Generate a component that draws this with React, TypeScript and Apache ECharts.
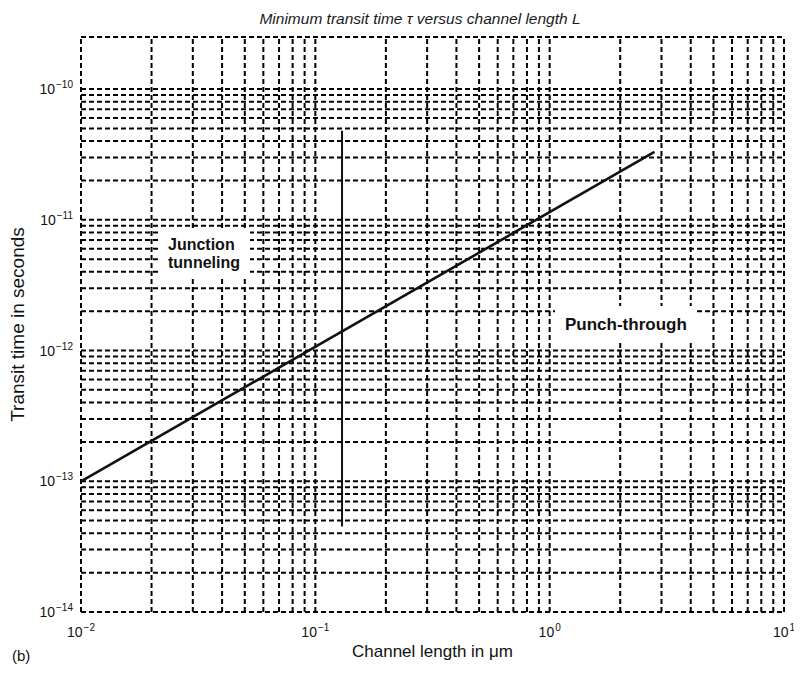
import React, { useEffect, useRef } from "react";
import * as echarts from "echarts";

// Data
const linePoints: [number, number][] = [
  [0.01, 1e-13],
  [2.8, 3.3e-11],
];
const boundaryLine: [number, number][] = [
  [0.13, 4.5e-14],
  [0.13, 4.8e-11],
];
const xMin = 0.01;
const xMax = 10;
const yMin = 1e-14;
const yMax = 2.5e-10;
const xDecades = [-2, -1, 0];
const yDecades = [-14, -13, -12, -11];
const multipliers = [1, 2, 3, 4, 5, 6, 7, 8, 9];

const xGrid: number[] = [];
xDecades.forEach((d) => multipliers.forEach((m) => xGrid.push(m * Math.pow(10, d))));
xGrid.push(10);
const yGrid: number[] = [];
yDecades.forEach((d) => multipliers.forEach((m) => yGrid.push(m * Math.pow(10, d))));
yGrid.push(1e-10);
yGrid.push(yMax);

const supLabel = (v: number) => {
  const e = Math.round(Math.log10(v));
  if (Math.abs(Math.log10(v) - e) > 1e-6) return "";
  const es = e < 0 ? "\u2212" + Math.abs(e) : String(e);
  return `{b|10}{s|${es}}`;
};

export default function App() {
  const ref = useRef<HTMLDivElement>(null);
  useEffect(() => {
    if (!ref.current) return;
    const chart = echarts.init(ref.current, undefined, { renderer: "svg" });
    const font = "'Liberation Sans', Arial, sans-serif";
    const gridStyle = { color: "#000", width: 2, type: [5, 3] as any };
    const rich = {
      b: { fontSize: 14, fontFamily: font, color: "#111" },
      s: { fontSize: 10, fontFamily: font, color: "#111", padding: [0, 0, 9, 1] },
    };
    const gridSeries: any[] = [
      ...xGrid.map((v) => ({
        type: "line",
        data: [
          [v, yMin],
          [v, yMax],
        ],
        symbol: "none",
        silent: true,
        lineStyle: gridStyle,
        z: 1,
      })),
      ...yGrid.map((v) => ({
        type: "line",
        data: [
          [xMin, v],
          [xMax, v],
        ],
        symbol: "none",
        silent: true,
        lineStyle: gridStyle,
        z: 1,
      })),
    ];
    chart.setOption({
      animation: false,
      backgroundColor: "#ffffff",
      title: {
        text: "Minimum transit time \u03c4 versus channel length L",
        left: 415,
        textAlign: "center",
        top: 5,
        textStyle: { fontSize: 15.5, fontStyle: "italic", fontWeight: "normal", fontFamily: font, color: "#1a1a1a" },
      },
      grid: { left: 80, right: 18, top: 37, bottom: 80 },
      xAxis: {
        type: "log",
        logBase: 10,
        min: xMin,
        max: xMax,
        axisLine: { show: false },
        axisTick: { show: false },
        splitLine: { show: false },
        axisLabel: { formatter: supLabel, rich, margin: 10 },
        name: "Channel length in \u03bcm",
        nameLocation: "middle",
        nameGap: 30,
        nameTextStyle: { fontSize: 17, fontFamily: font, color: "#111" },
      },
      yAxis: {
        type: "log",
        logBase: 10,
        min: yMin,
        max: yMax,
        axisLine: { show: false },
        axisTick: { show: false },
        splitLine: { show: false },
        axisLabel: { formatter: supLabel, rich, margin: 8 },
        name: "Transit time in seconds",
        nameLocation: "middle",
        nameGap: 54,
        nameTextStyle: { fontSize: 19, fontFamily: font, color: "#111" },
      },
      series: [
        ...gridSeries,
        {
          type: "line",
          data: linePoints,
          symbol: "none",
          lineStyle: { color: "#111", width: 2.6 },
          z: 5,
        },
        {
          type: "line",
          data: boundaryLine,
          symbol: "none",
          lineStyle: { color: "#111", width: 2 },
          z: 5,
        },
      ],
      graphic: [
        {
          type: "text",
          left: 158,
          top: 230,
          z: 10,
          style: {
            text: "Junction\ntunneling",
            font: `bold 16px ${font}`,
            fill: "#111",
            align: "center",
            backgroundColor: "#fff",
            padding: [5, 10],
            lineHeight: 18,
          },
        },
        {
          type: "text",
          left: 555,
          top: 306,
          z: 10,
          style: {
            text: "Punch-through",
            font: `bold 17px ${font}`,
            fill: "#111",
            backgroundColor: "#fff",
            padding: [10, 10],
          },
        },
        {
          type: "text",
          left: 12,
          top: 648,
          style: { text: "(b)", font: `15px ${font}`, fill: "#111" },
        },
      ],
    });
    return () => chart.dispose();
  }, []);
  return <div ref={ref} style={{ width: 802, height: 692, margin: -8 }} />;
}
